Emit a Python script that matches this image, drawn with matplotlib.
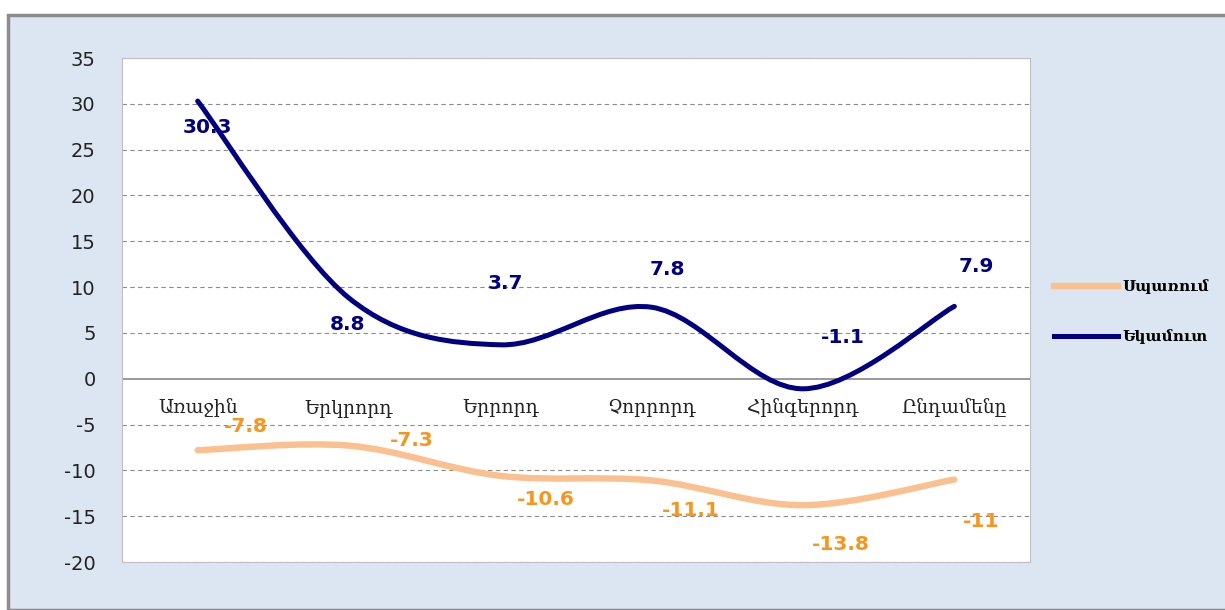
import numpy as np
import matplotlib
matplotlib.use("Agg")
import matplotlib.pyplot as plt
from matplotlib.path import Path
from matplotlib.patches import PathPatch, Rectangle
from matplotlib.lines import Line2D

# data
categories = ["Առաջին", "Երկրորդ", "Երրորդ", "Չորրորդ", "Հինգերորդ", "Ընդամենը"]
income = [30.3, 8.8, 3.7, 7.8, -1.1, 7.9]
spending = [-7.8, -7.3, -10.6, -11.1, -13.8, -11]
income_name = "Եկամուտ"
spending_name = "Սպառում"
y_ticks = list(range(-20, 40, 5))

NAVY = "#000080"
PEACH = "#FAC090"
ORANGE = "#F7961E"
BG = "#DCE6F2"

# label offsets in points (dx, dy)
income_offsets = [(7, -19), (-1, -19), (4, 44), (11, 27), (29, 37), (16, 29)]
spending_offsets = [(35, 17), (45, 4), (33, -17), (28, -22), (27, -28), (19, -30)]


def smooth_path(xs, ys, t=1.0 / 6.0):
    """Excel-like smoothed line as cubic bezier segments"""
    pts = np.column_stack([xs, ys]).astype(float)
    n = len(pts)
    verts = [pts[0]]
    codes = [Path.MOVETO]
    for i in range(n - 1):
        p0 = pts[i - 1] if i > 0 else pts[i]
        p1 = pts[i]
        p2 = pts[i + 1]
        p3 = pts[i + 2] if i + 2 < n else pts[i + 1]
        c1 = p1 + (p2 - p0) * t
        c2 = p2 - (p3 - p1) * t
        verts += [c1, c2, p2]
        codes += [Path.CURVE4] * 3
    return Path(verts, codes)


fig = plt.figure(figsize=(12.25, 6.1), dpi=100)
fig.patch.set_facecolor("white")
fig.patches.append(Rectangle((8 / 1225, 0), 1.0, 1 - 15 / 610, transform=fig.transFigure,
                             facecolor=BG, edgecolor="#8C8C8C", linewidth=2.5, zorder=-10))

ax = fig.add_axes([122 / 1225, 1 - 562 / 610, 908 / 1225, 504 / 610])
ax.set_zorder(5)
ax.set_facecolor("white")
ax.set_xlim(-0.5, len(categories) - 0.5)
ax.set_ylim(-20, 35)

for v in y_ticks:
    if v == 0:
        ax.axhline(0, color="#868686", linewidth=1.2, zorder=1)
    else:
        ax.axhline(v, color="#8C8C8C", linewidth=0.8, linestyle=(0, (4, 3)), zorder=1)

for s in ax.spines.values():
    s.set_color("#BFBFBF")
    s.set_linewidth(0.8)

ax.set_yticks(y_ticks)
ax.set_yticklabels([str(v) for v in y_ticks], fontsize=14, color="#222222")
ax.tick_params(axis="y", length=0, pad=19)
ax.set_xticks([])

xs = np.arange(len(categories))
for i, c in enumerate(categories):
    ax.annotate(c, (i, 0), xytext=(0, -21), textcoords="offset points",
                ha="center", va="center", fontsize=13.5, family="DejaVu Serif",
                color="#222222")

ax.add_patch(PathPatch(smooth_path(xs, spending), facecolor="none", edgecolor=PEACH,
                       linewidth=4.6, capstyle="round", zorder=3))
ax.add_patch(PathPatch(smooth_path(xs, income), facecolor="none", edgecolor=NAVY,
                       linewidth=3.6, capstyle="round", zorder=4))

for i, v in enumerate(income):
    ax.annotate(f"{v:g}", (i, v), xytext=income_offsets[i], textcoords="offset points",
                ha="center", va="center", fontsize=14.5, fontweight="bold", color=NAVY, zorder=5)
for i, v in enumerate(spending):
    ax.annotate(f"{v:g}", (i, v), xytext=spending_offsets[i], textcoords="offset points",
                ha="center", va="center", fontsize=14.5, fontweight="bold", color=ORANGE, zorder=5)

handles = [Line2D([], [], color=PEACH, linewidth=4.6),
           Line2D([], [], color=NAVY, linewidth=3.6)]
fig.legend(handles, [spending_name, income_name], loc="center left",
           bbox_to_anchor=(1040 / 1225, 1 - 312 / 610), frameon=False,
           labelspacing=2.3, handlelength=4.2, handletextpad=0.3,
           prop={"size": 11, "weight": "bold", "family": "DejaVu Serif"})

fig.savefig("out.png", dpi=100)
